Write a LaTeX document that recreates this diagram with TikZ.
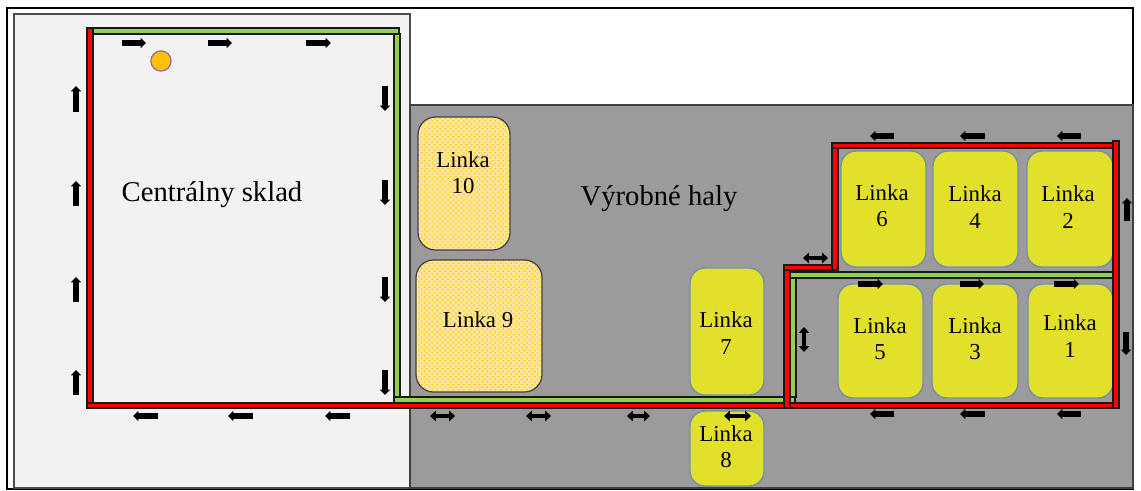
\documentclass[tikz,border=0pt]{standalone}
\usepackage{fontspec}
\setmainfont{Liberation Serif}
\usepackage{xcolor}
\usetikzlibrary{arrows.meta, patterns}
\definecolor{storegray}{RGB}{242,242,242}
\definecolor{hallgray}{RGB}{156,154,156}
\definecolor{lineyellow}{RGB}{227,224,43}
\definecolor{lineborder}{RGB}{110,147,168}
\definecolor{hatchorange}{RGB}{255,192,0}
\definecolor{wallgreen}{RGB}{146,208,80}
\definecolor{dotpurple}{RGB}{150,100,170}

\begin{document}
\begin{tikzpicture}[
  x=0.02cm, y=-0.02cm,
  redwall/.style={draw=black!90, fill=red, line width=0.8pt},
  greenwall/.style={draw=black!90, fill=wallgreen, line width=0.8pt},
  linkabox/.style={draw=lineborder, fill=lineyellow, line width=0.8pt, rounded corners=8.5pt},
  reservebox/.style={draw=black!75, line width=0.7pt, rounded corners=10pt,
    preaction={fill=hatchorange!40}, pattern=crosshatch dots, pattern color=hatchorange},
  linkatext/.style={align=center, inner sep=0pt, text=black, font=\fontsize{13}{14.9}\selectfont},
  hallname/.style={inner sep=0pt, text=black, font=\fontsize{16.3}{19}\selectfont},
  oneway/.style={-{Triangle[length=3pt, width=5.6pt]}, line width=3pt, black},
  twoway/.style={{Triangle[length=3.4pt, width=6pt]}-{Triangle[length=3.4pt, width=6pt]}, line width=2.2pt, black}
]
\useasboundingbox (0,0) rectangle (1141,490);

% Frame and floor areas
\draw[black, line width=1pt, fill=white] (7,8) rectangle (1133,489);
\draw[black!70, line width=0.8pt, fill=storegray] (14,14) rectangle (410,488);
\draw[black!75, line width=0.8pt, fill=hallgray] (410,105) rectangle (1133,488);

% Production lines
\draw[reservebox] (418,117) rectangle (510,250);
\draw[reservebox] (416,260) rectangle (542,392);
\draw[linkabox] (841,151) rectangle (926,267);
\draw[linkabox] (933,151) rectangle (1018,267);
\draw[linkabox] (1027,151) rectangle (1113,267);
\draw[linkabox] (838,284) rectangle (923,398);
\draw[linkabox] (932,284) rectangle (1018,398);
\draw[linkabox] (1028,284) rectangle (1113,398);
\draw[linkabox] (690,268) rectangle (764,395);
\draw[linkabox] (690,411) rectangle (764,486);

% Line labels
\foreach \name/\xpos/\ypos/\txt in {l1/1070/336/{Linka\\1}, l2/1068/207/{Linka\\2}, l3/975/339/{Linka\\3},
    l4/975/207/{Linka\\4}, l5/880/339/{Linka\\5}, l6/882/206/{Linka\\6}, l7/726/333/{Linka\\7},
    l8/726/447/{Linka\\8}, l9/478/320/{Linka 9}, l10/463/173/{Linka\\10}}
  \node[linkatext] (\name) at (\xpos,\ypos) {\txt};

% Area names
\node[hallname] (sklad) at (212,195) {Centrálny sklad};
\node[hallname] (haly) at (659,199) {Výrobné haly};

% Green route
\draw[greenwall] (92,28) rectangle (399,34);
\draw[greenwall] (394,34) rectangle (400,397);
\draw[greenwall] (394,397) rectangle (795,403);
\draw[greenwall] (790,275) rectangle (796,397);
\draw[greenwall] (790,272) rectangle (1115,278);

% Red route
\draw[redwall] (87,28) rectangle (93,403);
\draw[redwall] (87,403) rectangle (785,408);
\draw[redwall] (790,403) rectangle (1119,408);
\draw[redwall] (784,265) rectangle (790,408);
\draw[redwall] (784,265) rectangle (838,270);
\draw[redwall] (832,143) rectangle (838,270);
\draw[redwall] (832,143) rectangle (1114,148);
\draw[redwall] (1113,141) rectangle (1119,408);

% Marker
\node[circle, draw=dotpurple, fill=hatchorange, line width=0.7pt, minimum size=11.5pt, inner sep=0pt] (marker) at (161,61) {};

% One-way arrows
\foreach \xa/\xb in {122/146, 208/232, 306/331}
  \draw[oneway] (\xa,43) -- (\xb,43);
\foreach \xa/\xb in {858/883, 960/984, 1054/1079}
  \draw[oneway] (\xa,284) -- (\xb,284);
\foreach \xa/\xb in {158/133, 253/228, 350/325}
  \draw[oneway] (\xa,416) -- (\xb,416);
\foreach \xa/\xb in {894/870, 985/960, 1081/1057}
  \draw[oneway] (\xa,414) -- (\xb,414);
\foreach \xa/\xb in {894/870, 985/960, 1081/1057}
  \draw[oneway] (\xa,136) -- (\xb,136);
\foreach \ya/\yb in {112/86, 206/181, 302/277, 395/370}
  \draw[oneway] (76,\ya) -- (76,\yb);
\foreach \ya/\yb in {86/111, 180/205, 277/302, 370/395}
  \draw[oneway] (385,\ya) -- (385,\yb);
\draw[oneway] (1126,332) -- (1126,355);
\draw[oneway] (1127,221) -- (1127,198);

% Two-way arrows
\foreach \xa/\xb in {430/455, 526/551, 627/650, 724/751}
  \draw[twoway] (\xa,416) -- (\xb,416);
\draw[twoway] (803,258) -- (828,258);
\draw[twoway] (804,327) -- (804,352);

\end{tikzpicture}
\end{document}
